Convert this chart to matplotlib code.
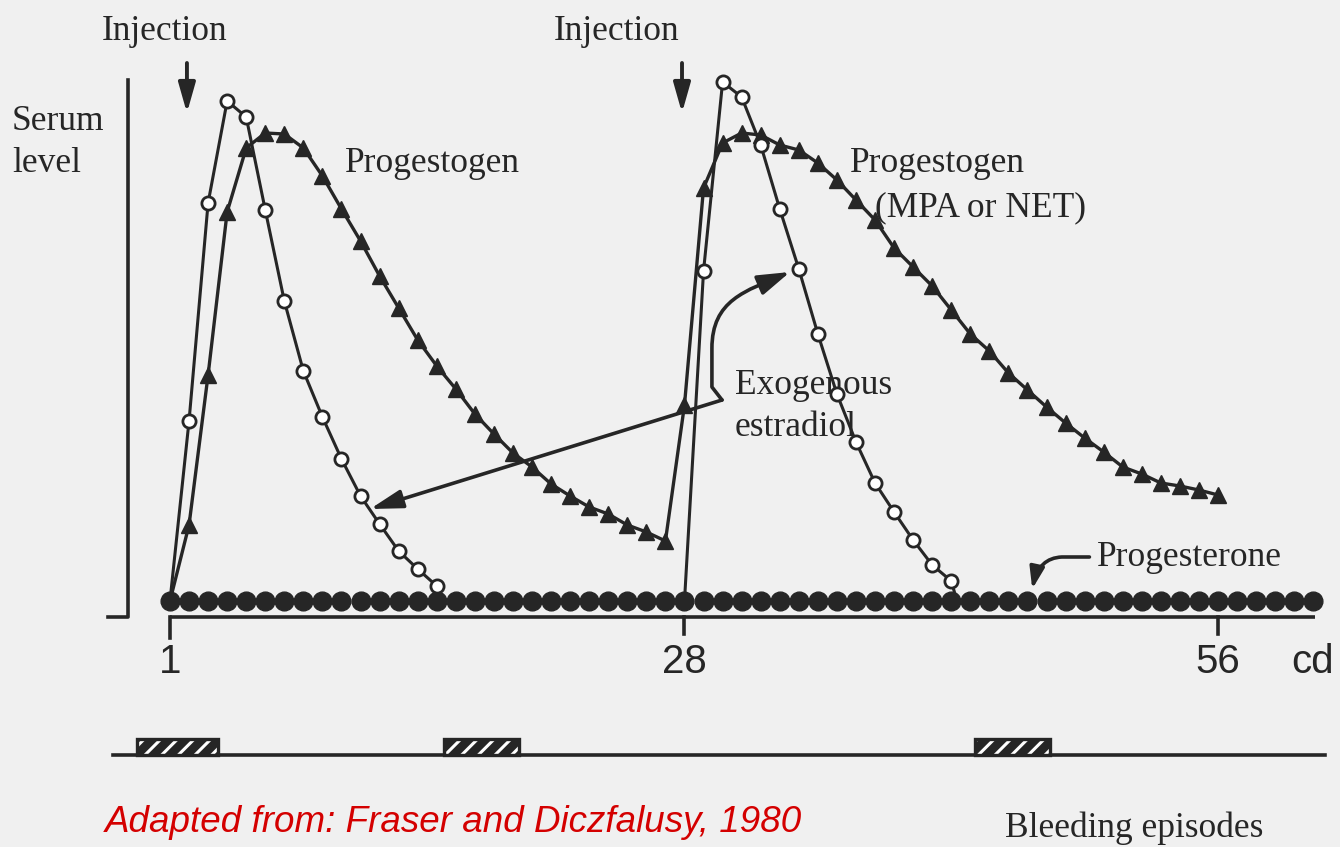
import numpy as np
import matplotlib.pyplot as plt
from matplotlib.patches import FancyArrowPatch, Rectangle
from matplotlib.path import Path

# serum levels (arbitrary units, peak ~100), per cycle day
estradiol_days_1 = [1, 2, 3, 4, 5, 6, 7, 8, 9, 10, 11, 12, 13, 14, 15, 15.4]
estradiol_vals_1 = [0, 36, 79.6, 100, 96.8, 78.2, 60, 46, 36.8, 28.4, 21, 15.4, 10, 6.4, 3, 0]
estradiol_days_2 = [28, 29, 30, 31, 32, 33, 34, 35, 36, 37, 38, 39, 40, 41, 42, 42.3]
estradiol_vals_2 = [0, 66, 103.8, 100.8, 91.2, 78.4, 66.4, 53.4, 41.4, 31.8, 23.6, 17.8, 12.2, 7.2, 4, 0]

progestogen_days = list(range(1, 57))
progestogen_vals = [0, 15.2, 45.2, 77.8, 90.6, 93.6, 93.4, 90.6, 85, 78.4,
                    72, 65, 58.6, 52.2, 47, 42.4, 37.4, 33.4, 29.6, 26.8,
                    23.4, 21, 18.8, 17.4, 15.2, 13.8, 12, 39.2, 82.6, 91.6,
                    93.6, 93.2, 91.2, 90.2, 87.6, 84.2, 80.2, 76.2, 70.6, 66.8,
                    63, 58.2, 53.4, 50, 45.6, 42.2, 38.8, 35.6, 32.6, 29.8,
                    26.8, 25.4, 23.6, 23, 22.2, 21.2]

progesterone_days = list(range(1, 62))
progesterone_vals = [0] * len(progesterone_days)

bleed_start = [-0.73, 15.38, 43.25]
bleed_end = [3.52, 19.32, 47.18]

tick_days = [1, 28, 56]
tick_labels = ['1', '28', '56']

ink = '#262626'
serif = ['Liberation Serif', 'DejaVu Serif']
narrow = ['Liberation Sans Narrow', 'Liberation Sans', 'DejaVu Sans']
plt.rcParams['hatch.linewidth'] = 2.2

fig = plt.figure(figsize=(13.4, 8.47), dpi=100)
fig.patch.set_facecolor('#f0f0f0')
ax = fig.add_axes([0, 0, 1, 1])
ax.set_facecolor('#f0f0f0')
ax.set_xlim(-7.92, 62.4)
ax.set_ylim(-49.2, 120.2)
ax.axis('off')

# progesterone stays flat at baseline
ax.plot(progesterone_days, progesterone_vals, 'o', color=ink, ms=13.5, zorder=2)

# progestogen (filled triangles)
ax.plot(progestogen_days, progestogen_vals, '-', color=ink, lw=2.4,
        marker='^', ms=12, markevery=slice(1, None), zorder=3)

# exogenous estradiol (open circles)
for d, v in [(estradiol_days_1, estradiol_vals_1), (estradiol_days_2, estradiol_vals_2)]:
    ax.plot(d, v, '-', color=ink, lw=2.2, marker='o', ms=9.5, mfc='white',
            mec=ink, mew=2, markevery=slice(1, -1), zorder=4)

# axes drawn like the original sketch
ax.plot([1, 61.1], [-3.2, -3.2], color=ink, lw=2.6, solid_capstyle='butt')
ax.plot([1, 1], [-3.2, -7.4], color=ink, lw=2.6)
for d in tick_days[1:]:
    ax.plot([d, d], [-3.2, -6.6], color=ink, lw=2.6)
for d, lab in zip(tick_days, tick_labels):
    ax.text(d, -12.2, lab, ha='center', va='center', fontsize=29,
            family=narrow, color=ink)
ax.text(60.98, -12.2, 'cd', ha='center', va='center', fontsize=29,
        family=narrow, color=ink)
ax.plot([-2.25, -1.2, -1.2], [-3.2, -3.2, 104.2], color=ink, lw=2.6)

ax.text(-7.29, 95.8, 'Serum', ha='left', va='center', fontsize=25.5, family=serif, color=ink)
ax.text(-7.29, 87.4, 'level', ha='left', va='center', fontsize=25.5, family=serif, color=ink)

# injections
for x, tx in [(1.89, 0.69), (27.87, 24.41)]:
    ax.text(tx, 113.9, 'Injection', ha='center', va='center', fontsize=25.5,
            family=serif, color=ink)
    ax.annotate('', xy=(x, 97.6), xytext=(x, 107.6),
                arrowprops=dict(arrowstyle='-|>,head_length=0.6,head_width=0.17',
                                mutation_scale=30, color=ink, lw=2.8,
                                shrinkA=0, shrinkB=0))

# labels
ax.text(10.18, 87.6, 'Progestogen', ha='left', va='center', fontsize=25.5, family=serif, color=ink)
ax.text(36.69, 87.6, 'Progestogen', ha='left', va='center', fontsize=25.5, family=serif, color=ink)
ax.text(38.0, 78.6, '(MPA or NET)', ha='left', va='center', fontsize=25.5, family=serif, color=ink)
ax.text(30.65, 43.2, 'Exogenous', ha='left', va='center', fontsize=25.5, family=serif, color=ink)
ax.text(30.65, 34.8, 'estradiol', ha='left', va='center', fontsize=25.5, family=serif, color=ink)
ax.text(49.65, 8.6, 'Progesterone', ha='left', va='center', fontsize=25.5, family=serif, color=ink)

# pointers for exogenous estradiol
ax.annotate('', xy=(11.5, 18.4), xytext=(29.97, 40.2),
            arrowprops=dict(arrowstyle='-|>,head_length=0.7,head_width=0.2',
                            mutation_scale=28, color=ink, lw=2.6, shrinkA=0, shrinkB=0))
curve = Path([(29.97, 40.2), (29.44, 42.8), (29.44, 50.5), (29.44, 60.2),
              (31.2, 62.0), (33.54, 65.8)],
             [Path.MOVETO, Path.LINETO, Path.LINETO, Path.CURVE4, Path.CURVE4, Path.CURVE4])
ax.add_patch(FancyArrowPatch(path=curve, arrowstyle='-|>,head_length=0.7,head_width=0.22',
                             mutation_scale=28, color=ink, lw=2.6))
hook = Path([(49.25, 8.8), (47.8, 8.8), (46.6, 8.6), (46.25, 2.4)],
            [Path.MOVETO, Path.LINETO, Path.CURVE3, Path.CURVE3])
ax.add_patch(FancyArrowPatch(path=hook, arrowstyle='-|>,head_length=0.5,head_width=0.17',
                             mutation_scale=26, color=ink, lw=2.6))

# bleeding episodes
ax.plot([-1.99, 61.6], [-30.8, -30.8], color=ink, lw=2.6)
for s, e in zip(bleed_start, bleed_end):
    ax.add_patch(Rectangle((s, -30.8), e - s, 3.2, facecolor=ink, edgecolor='white',
                           hatch='//', lw=0, zorder=3))
    ax.add_patch(Rectangle((s, -30.8), e - s, 3.2, fill=False, edgecolor=ink,
                           lw=2.4, zorder=4))
ax.text(44.82, -45.4, 'Bleeding episodes', ha='left', va='center', fontsize=25.5,
        family=serif, color=ink)

ax.text(-2.41, -44.2, 'Adapted from: Fraser and Diczfalusy, 1980', ha='left', va='center',
        fontsize=26.5, style='italic', family=['Liberation Sans', 'DejaVu Sans'], color='#d40000')

fig.savefig('out.png', dpi=100, facecolor=fig.get_facecolor())
